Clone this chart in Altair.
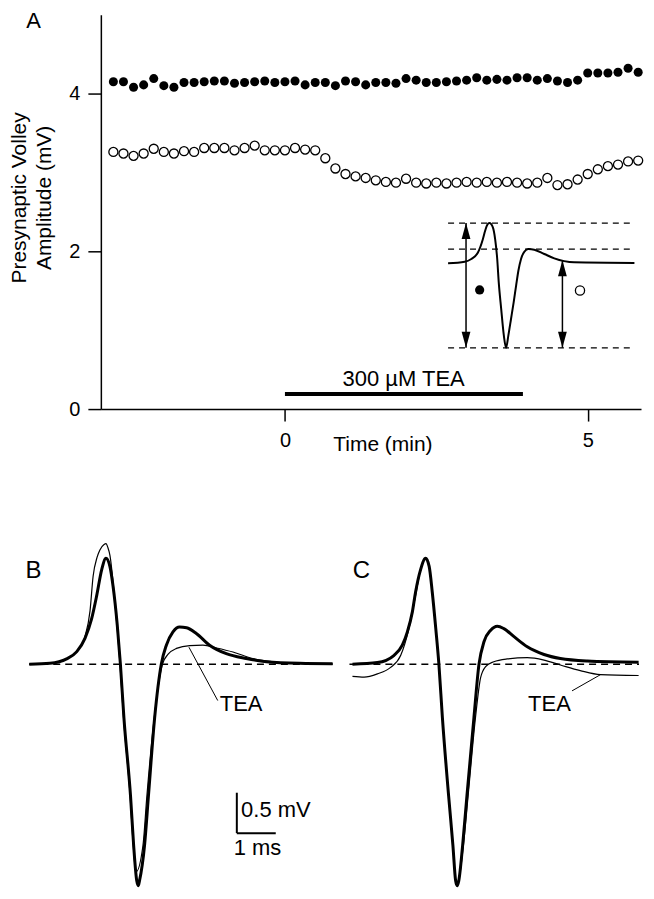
import altair as alt
import pandas as pd

FONT = "Liberation Sans"

# ---------------- Panel A: presynaptic volley amplitude vs time ----------------
TIME_S = [-170, -160, -150, -140, -130, -120, -110, -100, -90, -80, -70, -60,
          -50, -40, -30, -20, -10, 0, 10, 20, 30, 40, 50, 60, 70, 80, 90, 100,
          110, 120, 130, 140, 150, 160, 170, 180, 190, 200, 210, 220, 230, 240,
          250, 260, 270, 280, 290, 300, 310, 320, 330, 340, 350]
FILLED_MV = [4.15, 4.15, 4.08, 4.11, 4.19, 4.10, 4.08, 4.14, 4.14, 4.15, 4.16, 4.16,
             4.13, 4.14, 4.15, 4.16, 4.14, 4.15,
             4.16, 4.11, 4.14, 4.14, 4.10, 4.16, 4.15, 4.11, 4.14, 4.14, 4.13, 4.19,
             4.17, 4.14, 4.14, 4.15, 4.16,
             4.17, 4.20, 4.17, 4.18, 4.17, 4.20, 4.20, 4.17, 4.19, 4.16, 4.14, 4.17,
             4.26, 4.26, 4.26, 4.27, 4.32, 4.27]
OPEN_MV = [3.26, 3.24, 3.21, 3.24, 3.30, 3.26, 3.24, 3.27, 3.26, 3.31, 3.31, 3.31,
           3.28, 3.31, 3.34, 3.28, 3.28, 3.28,
           3.31, 3.29, 3.28, 3.18, 3.05, 2.98, 2.95, 2.93,
           2.90, 2.88, 2.87, 2.92, 2.87, 2.86, 2.87, 2.86, 2.87, 2.88, 2.87, 2.88,
           2.87, 2.88, 2.87, 2.86, 2.87,
           2.93, 2.84, 2.85, 2.91, 2.98, 3.04, 3.08, 3.10, 3.14, 3.15]
A_X_TICKS = [0, 5]
A_Y_TICKS = [0, 2, 4]
TEA_BAR_MIN = [0.0, 3.93]
TEA_BAR_MV = 0.19
TEA_BAR_LABEL = "300  µM TEA"

# Inset waveform (own units: ms, mV relative to baseline)
INSET_MS = [0.0, 0.88, 1.23, 1.58, 1.84, 1.96, 2.07, 2.19, 2.37, 2.49, 2.60, 2.68,
            2.81, 2.95, 3.07, 3.19, 3.33, 3.47, 3.60, 3.72, 3.86, 4.04, 4.25, 4.56,
            5.09, 5.62, 6.14, 6.67, 9.86]
INSET_MV = [0.0, 0.05, 0.14, 0.35, 0.78, 1.05, 1.24, 1.30, 1.16, 0.78, 0.14, -0.61,
            -1.47, -2.33, -2.73, -2.33, -1.80, -1.26, -0.72, -0.24, 0.14, 0.38, 0.46,
            0.44, 0.30, 0.16, 0.07, 0.03, 0.01]
INSET_LEVELS_MV = [1.30, 0.46, -2.73]
INSET_SPAN_MS = [0.0, 9.86]
INSET_ARROW_MS = [0.95, 6.05]
INSET_ARROW_TOP_MV = [1.30, 0.10]
INSET_ARROW_BOTTOM_MV = [-2.73, -2.73]
INSET_DOT_MS = [1.67, 6.98]
INSET_DOT_MV = [-0.86, -0.88]

# ---------------- Panels B and C: averaged volleys ----------------
B_CTRL_MS = [0.00, 0.53, 0.96, 1.22, 1.43, 1.60, 1.73, 1.86, 1.97, 2.07, 2.15, 2.26,
             2.34, 2.43, 2.60, 2.68, 2.76, 2.80, 2.83, 2.96, 3.06, 3.22, 3.39, 3.52,
             3.69, 3.86, 4.04, 4.29, 4.63, 5.06, 5.57, 6.09, 6.94, 7.79]
B_CTRL_MV = [0.00, 0.01, 0.065, 0.155, 0.32, 0.56, 0.845, 1.17, 1.31, 1.21, 0.97, 0.48,
             0.00, -0.66, -1.63, -2.24, -2.68, -2.74, -2.68, -2.24, -1.63, -0.66, 0.00,
             0.235, 0.40, 0.46, 0.45, 0.38, 0.235, 0.13, 0.07, 0.03, 0.01, 0.005]
B_TEA_MS = [0.00, 0.53, 0.96, 1.22, 1.43, 1.56, 1.64, 1.74, 1.81, 1.92, 1.97, 2.02,
            2.07, 2.20, 2.33, 2.42, 2.59, 2.67, 2.74, 2.92, 3.02, 3.21, 3.42, 3.56,
            3.78, 4.12, 4.46, 4.81, 5.23, 5.74, 6.34, 6.94, 7.79]
B_TEA_MV = [0.00, 0.01, 0.065, 0.155, 0.34, 0.66, 1.09, 1.32, 1.41, 1.48, 1.49, 1.44,
            1.35, 0.76, 0.00, -0.66, -1.63, -2.24, -2.57, -2.24, -1.63, -0.66, 0.00,
            0.12, 0.195, 0.23, 0.235, 0.20, 0.15, 0.07, 0.025, 0.01, 0.005]
C_CTRL_MS = [0.00, 0.64, 1.07, 1.28, 1.41, 1.54, 1.62, 1.75, 1.88, 1.97, 2.05, 2.14,
             2.22, 2.31, 2.47, 2.58, 2.65, 2.69, 2.73, 2.83, 2.94, 3.12, 3.25, 3.38,
             3.55, 3.72, 3.89, 4.15, 4.49, 4.92, 5.34, 6.03, 7.35]
C_CTRL_MV = [0.00, 0.02, 0.11, 0.235, 0.40, 0.65, 0.89, 1.17, 1.31, 1.21, 0.89, 0.44,
             0.00, -0.66, -1.63, -2.24, -2.68, -2.74, -2.68, -2.24, -1.63, -0.66, 0.00,
             0.28, 0.42, 0.47, 0.44, 0.34, 0.215, 0.12, 0.07, 0.04, 0.025]
C_TEA_MS = [0.00, 0.30, 0.64, 0.98, 1.24, 1.45, 1.62, 1.75, 1.88, 1.97, 2.05, 2.14,
            2.22, 2.31, 2.47, 2.58, 2.65, 2.69, 2.73, 2.85, 2.97, 3.16, 3.29, 3.42,
            3.63, 3.97, 4.49, 4.92, 5.34, 5.85, 6.37, 7.35]
C_TEA_MV = [-0.15, -0.16, -0.12, -0.04, 0.11, 0.44, 0.845, 1.17, 1.31, 1.21, 0.89, 0.44,
            0.00, -0.66, -1.63, -2.24, -2.68, -2.74, -2.68, -2.24, -1.63, -0.66, -0.17,
            -0.03, 0.03, 0.065, 0.08, 0.05, -0.01, -0.08, -0.13, -0.14]
SCALE_BAR_MV = 0.5
SCALE_BAR_MS = 1.0

# ---------------- layout constants ----------------
A_W, A_H = 541, 395
A_XDOM = [-3.04, 5.88]
A_YDOM = [0, 5]
INSET_T0, INSET_MIN_PER_MS = 2.694, 0.3121
INSET_A0, INSET_AMP_PER_MV = 1.848, 0.3924

B_XDOM, B_W = [1.838, 7.787], 232
C_XDOM, C_W = [-0.077, 7.36], 290
BC_YDOM, BC_H = [-2.76, 1.55], 349

# ---------------- Panel A ----------------
xs_A = alt.Scale(domain=A_XDOM, nice=False, zero=False)
ys_A = alt.Scale(domain=A_YDOM, nice=False, zero=False)
ax_x = alt.Axis(values=A_X_TICKS, format="d", tickSize=12, labelPadding=9,
                title="Time  (min)", titleX=282, titleY=41, titleBaseline="alphabetic",
                titleAlign="center", grid=False)
ax_y = alt.Axis(values=A_Y_TICKS, format="d", tickSize=13, labelPadding=8,
                title=["Presynaptic Volley", "Amplitude  (mV)"], titleLineHeight=25,
                titlePadding=14, titleY=183, grid=False)


def XA(f):
    return alt.X(f, type="quantitative", scale=xs_A, axis=ax_x)


def YA(f):
    return alt.Y(f, type="quantitative", scale=ys_A, axis=ax_y)


dfA = pd.DataFrame({"t": [s / 60 for s in TIME_S], "filled": FILLED_MV, "open": OPEN_MV})
baseA = alt.Chart(dfA)
filled = baseA.mark_circle(size=82, color="black", opacity=1).encode(x=XA("t"), y=YA("filled"))
opened = baseA.mark_point(shape="circle", size=82, filled=False, color="black",
                          strokeWidth=1.3, opacity=1).encode(x=XA("t"), y=YA("open"))

bar = alt.Chart(pd.DataFrame({"t0": [TEA_BAR_MIN[0]], "t1": [TEA_BAR_MIN[1]], "v": [TEA_BAR_MV]})) \
    .mark_rule(strokeWidth=4, color="black").encode(x=XA("t0"), x2="t1", y=YA("v"))
bar_text = alt.Chart(pd.DataFrame({"t": [1.96], "v": [0.38], "s": [TEA_BAR_LABEL]})) \
    .mark_text(font=FONT, fontSize=22, color="black", align="center", baseline="middle") \
    .encode(x=XA("t"), y=YA("v"), text="s")
letterA = alt.Chart(pd.DataFrame({"t": [-4.15], "v": [4.925], "s": ["A"]})) \
    .mark_text(font=FONT, fontSize=22, color="black", align="center", baseline="middle") \
    .encode(x=XA("t"), y=YA("v"), text="s")


def it(ms):
    return INSET_T0 + ms * INSET_MIN_PER_MS


def iv(mv):
    return INSET_A0 + mv * INSET_AMP_PER_MV


inset_trace = alt.Chart(pd.DataFrame({"t": [it(m) for m in INSET_MS], "v": [iv(m) for m in INSET_MV]})) \
    .mark_line(color="black", strokeWidth=2, interpolate="monotone").encode(x=XA("t"), y=YA("v"))
inset_levels = alt.Chart(pd.DataFrame({"t0": [it(INSET_SPAN_MS[0])] * 3, "t1": [it(INSET_SPAN_MS[1])] * 3,
                                       "v": [iv(m) for m in INSET_LEVELS_MV]})) \
    .mark_rule(color="black", strokeWidth=1.3, strokeDash=[6, 5]).encode(x=XA("t0"), x2="t1", y=YA("v"))
arrows_df = pd.DataFrame({"t": [it(m) for m in INSET_ARROW_MS],
                          "top": [iv(m) for m in INSET_ARROW_TOP_MV],
                          "bot": [iv(m) for m in INSET_ARROW_BOTTOM_MV]})
shafts = alt.Chart(arrows_df).mark_rule(color="black", strokeWidth=1.5) \
    .encode(x=XA("t"), y=YA("top"), y2="bot")
UP = "M0,0L0.55,2L-0.55,2Z"
DOWN = "M0,0L0.55,-2L-0.55,-2Z"
heads_up = alt.Chart(arrows_df).mark_point(shape=UP, size=256, filled=True, color="black",
                                           opacity=1, strokeWidth=0).encode(x=XA("t"), y=YA("top"))
heads_dn = alt.Chart(arrows_df).mark_point(shape=DOWN, size=256, filled=True, color="black",
                                           opacity=1, strokeWidth=0).encode(x=XA("t"), y=YA("bot"))
dot_f = alt.Chart(pd.DataFrame({"t": [it(INSET_DOT_MS[0])], "v": [iv(INSET_DOT_MV[0])]})) \
    .mark_circle(size=85, color="black", opacity=1).encode(x=XA("t"), y=YA("v"))
dot_o = alt.Chart(pd.DataFrame({"t": [it(INSET_DOT_MS[1])], "v": [iv(INSET_DOT_MV[1])]})) \
    .mark_point(shape="circle", size=85, filled=False, color="black", strokeWidth=1.3,
                opacity=1).encode(x=XA("t"), y=YA("v"))

panelA = alt.layer(filled, opened, bar, bar_text, letterA, inset_levels, inset_trace,
                   shafts, heads_up, heads_dn, dot_f, dot_o).properties(width=A_W, height=A_H)


# ---------------- Panels B & C ----------------
def trace_panel(xdom, width, ctrl_ms, ctrl_mv, tea_ms, tea_mv, letter, letter_pos,
                tea_pos, leader, base_span, scalebar=False):
    xs = alt.Scale(domain=xdom, nice=False, zero=False)
    ys = alt.Scale(domain=BC_YDOM, nice=False, zero=False)

    def X(f):
        return alt.X(f, type="quantitative", scale=xs, axis=None)

    def Y(f):
        return alt.Y(f, type="quantitative", scale=ys, axis=None)

    layers = []
    layers.append(alt.Chart(pd.DataFrame({"a": [base_span[0]], "b": [base_span[1]], "v": [0.0]}))
                  .mark_rule(color="black", strokeWidth=1.5, strokeDash=[7, 5])
                  .encode(x=X("a"), x2="b", y=Y("v")))
    layers.append(alt.Chart(pd.DataFrame({"ms": ctrl_ms, "mv": ctrl_mv}))
                  .mark_line(color="black", strokeWidth=3, interpolate="monotone")
                  .encode(x=X("ms"), y=Y("mv")))
    layers.append(alt.Chart(pd.DataFrame({"ms": tea_ms, "mv": tea_mv}))
                  .mark_line(color="black", strokeWidth=1.2, interpolate="monotone")
                  .encode(x=X("ms"), y=Y("mv")))
    layers.append(alt.Chart(pd.DataFrame({"ms": [letter_pos[0]], "mv": [letter_pos[1]], "s": [letter]}))
                  .mark_text(font=FONT, fontSize=24, color="black", align="center", baseline="middle")
                  .encode(x=X("ms"), y=Y("mv"), text="s"))
    layers.append(alt.Chart(pd.DataFrame({"ms": [tea_pos[0]], "mv": [tea_pos[1]], "s": ["TEA"]}))
                  .mark_text(font=FONT, fontSize=22, color="black", align="center", baseline="middle")
                  .encode(x=X("ms"), y=Y("mv"), text="s"))
    layers.append(alt.Chart(pd.DataFrame({"a": [leader[0]], "va": [leader[1]],
                                          "b": [leader[2]], "vb": [leader[3]]}))
                  .mark_rule(color="black", strokeWidth=1)
                  .encode(x=X("a"), y=Y("va"), x2="b", y2="vb"))
    if scalebar:
        x0, y0 = 5.33, -2.09
        layers.append(alt.Chart(pd.DataFrame({"a": [x0], "va": [y0], "vb": [y0 + SCALE_BAR_MV]}))
                      .mark_rule(color="black", strokeWidth=2).encode(x=X("a"), y=Y("va"), y2="vb"))
        layers.append(alt.Chart(pd.DataFrame({"a": [x0], "b": [x0 + SCALE_BAR_MS], "v": [y0]}))
                      .mark_rule(color="black", strokeWidth=2).encode(x=X("a"), x2="b", y=Y("v")))
        layers.append(alt.Chart(pd.DataFrame({"ms": [5.44, 5.25], "mv": [-1.81, -2.28],
                                              "s": ["0.5 mV", "1 ms"]}))
                      .mark_text(font=FONT, fontSize=22, color="black", align="left", baseline="middle")
                      .encode(x=X("ms"), y=Y("mv"), text="s"))
    return alt.layer(*layers).properties(width=width, height=BC_H)


panelB = trace_panel(B_XDOM, B_W, B_CTRL_MS, B_CTRL_MV, B_TEA_MS, B_TEA_MV, "B", (0.11, 1.15),
                     (5.44, -0.49), (4.84, -0.45, 4.10, 0.21), (0.0, 7.79), scalebar=True)
panelC = trace_panel(C_XDOM, C_W, C_CTRL_MS, C_CTRL_MV, C_TEA_MS, C_TEA_MV, "C", (0.23, 1.15),
                     (5.06, -0.49), (5.64, -0.33, 6.37, -0.13), (-0.077, 7.36))

chart = alt.vconcat(panelA, alt.hconcat(panelB, panelC, spacing=7), spacing=85) \
    .properties(padding={"left": 0, "top": 0, "right": 0, "bottom": 0}, background="white") \
    .configure_view(stroke=None) \
    .configure_axis(domainColor="black", tickColor="black", labelColor="black", titleColor="black",
                    domainWidth=1.5, tickWidth=1.5, labelFont=FONT, titleFont=FONT,
                    labelFontSize=20, titleFontSize=21, titleFontWeight="normal")

chart.save("out.html", embed_options={"renderer": "svg", "actions": False})
